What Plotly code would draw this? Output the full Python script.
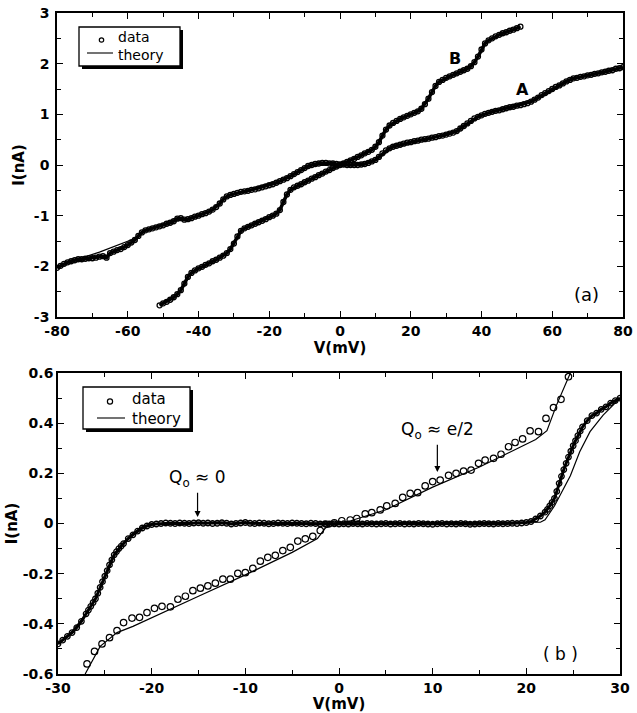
import plotly.graph_objects as go

# ---------------- Panel (a) data ----------------
va = list(range(-80, 81))
ia = [-2.03, -1.99, -1.95, -1.92, -1.90, -1.88, -1.86, -1.86, -1.85, -1.84,
      -1.84, -1.83, -1.81, -1.80, -1.83, -1.74, -1.71, -1.68, -1.66, -1.62,
      -1.58, -1.53, -1.48, -1.40, -1.33, -1.29, -1.27, -1.25, -1.23, -1.21,
      -1.19, -1.16, -1.14, -1.11, -1.06, -1.05, -1.08, -1.07, -1.05, -1.02,
      -1.00, -0.97, -0.95, -0.92, -0.88, -0.83, -0.76, -0.68, -0.62, -0.59,
      -0.57, -0.55, -0.53, -0.52, -0.51, -0.49, -0.48, -0.46, -0.44, -0.42,
      -0.40, -0.38, -0.35, -0.32, -0.29, -0.26, -0.22, -0.18, -0.14, -0.10,
      -0.06, -0.02, 0.00, 0.02, 0.03, 0.04, 0.04, 0.03, 0.03, 0.02,
      0.01, 0.01, 0.00, 0.00, 0.00, 0.00, 0.01, 0.02, 0.04, 0.07,
      0.10, 0.16, 0.23, 0.29, 0.33, 0.36, 0.38, 0.40, 0.42, 0.44,
      0.45, 0.47, 0.48, 0.50, 0.51, 0.52, 0.54, 0.55, 0.57, 0.58,
      0.60, 0.62, 0.64, 0.67, 0.72, 0.77, 0.82, 0.87, 0.92, 0.95,
      0.98, 1.01, 1.03, 1.05, 1.07, 1.08, 1.10, 1.12, 1.14, 1.15,
      1.17, 1.18, 1.20, 1.22, 1.25, 1.29, 1.33, 1.38, 1.42, 1.46,
      1.50, 1.54, 1.57, 1.61, 1.65, 1.68, 1.71, 1.72, 1.74, 1.75,
      1.77, 1.78, 1.80, 1.81, 1.83, 1.84, 1.86, 1.87, 1.90, 1.91,
      1.93]

vb = list(range(-51, 52))
ib = [-2.77, -2.73, -2.70, -2.66, -2.61, -2.55, -2.47, -2.34, -2.21, -2.13,
      -2.08, -2.04, -2.01, -1.97, -1.94, -1.90, -1.87, -1.83, -1.79, -1.74,
      -1.66, -1.55, -1.41, -1.30, -1.25, -1.22, -1.19, -1.16, -1.13, -1.10,
      -1.07, -1.03, -1.00, -0.96, -0.89, -0.73, -0.58, -0.49, -0.44, -0.41,
      -0.38, -0.34, -0.31, -0.27, -0.24, -0.20, -0.17, -0.13, -0.10, -0.06,
      -0.03, 0.00, 0.03, 0.06, 0.09, 0.12, 0.16, 0.19, 0.23, 0.26,
      0.30, 0.36, 0.45, 0.58, 0.70, 0.78, 0.83, 0.87, 0.91, 0.94,
      0.97, 1.00, 1.03, 1.06, 1.11, 1.20, 1.31, 1.44, 1.56, 1.64,
      1.68, 1.72, 1.75, 1.78, 1.81, 1.84, 1.87, 1.90, 1.95, 2.03,
      2.14, 2.28, 2.40, 2.46, 2.50, 2.54, 2.57, 2.60, 2.62, 2.65,
      2.67, 2.70, 2.73]

va_th = [-80, -76, -72, -68, -64, -60, -58, -56, -54, -50, -46, -42, -38, -35,
         -33, -31, -26, -20, -15, -10, -7, -3, 0, 4, 7, 10, 12, 14, 18, 24, 30,
         33, 36, 39, 44, 50, 54, 58, 62, 66, 70, 76, 80]
ia_th = [-2.00, -1.90, -1.81, -1.72, -1.61, -1.51, -1.45, -1.33, -1.27, -1.19,
         -1.09, -1.04, -0.95, -0.83, -0.68, -0.59, -0.51, -0.40, -0.26, -0.07,
         0.01, 0.03, 0.01, 0.00, 0.02, 0.10, 0.23, 0.33, 0.42, 0.51, 0.60,
         0.67, 0.82, 0.95, 1.07, 1.17, 1.25, 1.42, 1.57, 1.70, 1.77, 1.86, 1.93]

vb_th = [-51, -47, -45, -43, -41, -36, -32, -30, -28, -26, -20, -18, -16, -14,
         -12, -6, 0, 6, 10, 12, 14, 18, 22, 24, 26, 28, 32, 36, 38, 40, 42, 46, 51]
ib_th = [-2.77, -2.61, -2.47, -2.21, -2.08, -1.90, -1.74, -1.55, -1.30, -1.22,
         -1.03, -0.96, -0.73, -0.49, -0.41, -0.20, 0.00, 0.19, 0.36, 0.58, 0.78,
         0.94, 1.06, 1.20, 1.44, 1.64, 1.78, 1.90, 2.03, 2.28, 2.46, 2.60, 2.73]

# ---------------- Panel (b) data ----------------
v_q0 = [-30, -29.5, -29, -28.5, -28, -27.5, -27, -26.75, -26.5, -26.25, -26,
        -25.75, -25.5, -25.25, -25, -24.75, -24.5, -24.25, -24, -23.75, -23.5,
        -23.25, -23, -22.5, -22, -21.5, -21, -20.5, -20,
        -19.5, -19, -18.5, -18, -17.5, -17, -16.5, -16, -15.5, -15, -14.5, -14,
        -13.5, -13, -12.5, -12, -11.5, -11, -10.5, -10, -9.5, -9, -8.5, -8,
        -7.5, -7, -6.5, -6, -5.5, -5, -4.5, -4, -3.5, -3, -2.5, -2, -1.5, -1,
        -0.5, 0, 0.5, 1, 1.5, 2, 2.5, 3, 3.5, 4, 4.5, 5, 5.5, 6, 6.5, 7, 7.5,
        8, 8.5, 9, 9.5, 10, 10.5, 11, 11.5, 12, 12.5, 13, 13.5, 14, 14.5, 15,
        15.5, 16, 16.5, 17, 17.5, 18, 18.5, 19, 19.5, 20,
        20.5, 21, 21.5, 22, 22.25, 22.5, 22.75, 23, 23.25, 23.5, 23.75, 24,
        24.25, 24.5, 24.75, 25, 25.25, 25.5, 25.75, 26, 26.5, 27, 27.5, 28,
        28.5, 29, 29.5, 30]
i_q0 = [-0.480, -0.465, -0.450, -0.435, -0.415, -0.390, -0.360, -0.345, -0.330,
        -0.315, -0.300, -0.278, -0.255, -0.232, -0.210, -0.188, -0.165, -0.145,
        -0.125, -0.112, -0.100, -0.090, -0.080, -0.060, -0.045, -0.030, -0.018,
        -0.010, -0.004,
        -0.002, 0.000, 0.002, 0.001, 0.000, 0.002, 0.001, 0.000, 0.002, 0.003,
        0.001, 0.002, 0.000, 0.001, 0.003, 0.001, -0.002, 0.000, 0.002, 0.004,
        0.001, 0.000, 0.002, 0.001, -0.001, 0.000, 0.002, 0.001, 0.000, 0.002,
        0.001, 0.000, -0.001, 0.001, 0.000, -0.002, -0.001, -0.002, -0.001,
        -0.002, -0.001, -0.002, 0.000, -0.001, -0.002, 0.000, -0.001, -0.002,
        -0.001, 0.000, -0.002, -0.001, 0.000, -0.002, -0.001, -0.002, 0.000,
        -0.001, -0.002, -0.003, -0.001, 0.000, -0.002, -0.001, -0.002, 0.000,
        -0.001, -0.003, -0.002, -0.001, 0.000, -0.001, -0.002, 0.000, -0.001,
        0.000, 0.001, 0.000, 0.002, 0.004,
        0.008, 0.018, 0.030, 0.045, 0.056, 0.070, 0.084, 0.100, 0.128, 0.160,
        0.188, 0.215, 0.240, 0.265, 0.288, 0.310, 0.330, 0.350, 0.368, 0.385,
        0.410, 0.430, 0.440, 0.455, 0.465, 0.480, 0.490, 0.500]

v_q0_th = [-30, -28.5, -27, -26, -25, -24, -23, -22, -21, -20, 21.5, 22, 23,
           24, 24.7, 25.7, 26.8, 28.2, 29, 30]
i_q0_th = [-0.480, -0.430, -0.360, -0.300, -0.220, -0.130, -0.075, -0.038,
           -0.012, 0.000, 0.005, 0.015, 0.070, 0.140, 0.190, 0.286, 0.366,
           0.432, 0.462, 0.500]

v_half = [-26.9, -26.1, -25.3, -24.5, -23.7, -23.0, -22.1, -21.3, -20.5, -19.7,
          -18.9, -18.0, -17.2, -16.4, -15.6, -14.8, -14.0, -13.2, -12.4, -11.6,
          -10.8, -10.0, -9.2, -8.4, -7.6, -6.8, -6.0, -5.2, -4.4, -3.6, -2.8,
          -2.0, -1.3, -0.5, 0.3, 1.2, 1.9, 2.8, 3.5, 4.4, 5.1, 6.0, 6.8, 7.6,
          8.4, 9.2, 10.0, 10.8, 11.7, 12.5, 13.3, 14.1, 14.9, 15.6, 16.5, 17.3,
          18.1, 18.8, 19.6, 20.4, 21.3, 22.1, 22.9, 23.7, 24.5]
i_half = [-0.560, -0.510, -0.480, -0.455, -0.427, -0.395, -0.377, -0.374,
          -0.355, -0.338, -0.330, -0.332, -0.302, -0.290, -0.268, -0.258,
          -0.249, -0.238, -0.222, -0.222, -0.199, -0.196, -0.179, -0.150,
          -0.135, -0.127, -0.108, -0.095, -0.070, -0.061, -0.051, -0.028,
          -0.003, 0.003, 0.011, 0.014, 0.020, 0.038, 0.043, 0.054, 0.070,
          0.080, 0.104, 0.120, 0.123, 0.150, 0.167, 0.173, 0.192, 0.200,
          0.209, 0.213, 0.240, 0.253, 0.260, 0.276, 0.306, 0.323, 0.337,
          0.369, 0.366, 0.419, 0.462, 0.495, 0.585]

v_half_th = [-27.1, -25.5, -23.7, -22.0, -15.0, -10.0, -5.0, -2.3, -1.5, -0.8,
             1.0, 5.0, 10.0, 15.0, 21.0, 22.2, 23.2, 24.7]
i_half_th = [-0.600, -0.490, -0.435, -0.410, -0.290, -0.205, -0.115, -0.060,
             -0.020, 0.000, 0.008, 0.055, 0.145, 0.225, 0.335, 0.370, 0.470,
             0.600]

# tick labels
xa_ticks = [-80, -60, -40, -20, 0, 20, 40, 60, 80]
ya_ticks = [-3, -2, -1, 0, 1, 2, 3]
xb_ticks = [-30, -20, -10, 0, 10, 20, 30]
yb_ticks = [-0.6, -0.4, -0.2, 0, 0.2, 0.4, 0.6]
yb_labels = ["-0.6", "-0.4", "-0.2", "0", "0.2", "0.4", "0.6"]

W, H = 637, 713
def PX(x):
    return x / W
def PY(y):
    return 1 - y / H

FONT = "DejaVu Sans"
fig = go.Figure()

# ---- panel (a) traces ----
for v, i in ((va, ia), (vb, ib)):
    fig.add_trace(go.Scatter(x=v, y=i, mode="lines", line=dict(color="black", width=3.5),
                             showlegend=False, hoverinfo="skip", xaxis="x", yaxis="y"))
for v, i in ((va, ia), (vb, ib)):
    fig.add_trace(go.Scatter(x=v, y=i, mode="markers", name="data",
                             marker=dict(symbol="circle-open", size=5, color="black",
                                         line=dict(width=1.3, color="black")),
                             showlegend=False, xaxis="x", yaxis="y"))
for v, i in ((va_th, ia_th), (vb_th, ib_th)):
    fig.add_trace(go.Scatter(x=v, y=i, mode="lines", name="theory",
                             line=dict(color="black", width=1.2),
                             showlegend=False, xaxis="x", yaxis="y"))

# ---- panel (b) traces ----
fig.add_trace(go.Scatter(x=v_q0, y=i_q0, mode="lines", line=dict(color="black", width=3),
                         showlegend=False, hoverinfo="skip", xaxis="x2", yaxis="y2"))
fig.add_trace(go.Scatter(x=v_q0, y=i_q0, mode="markers", name="data",
                         marker=dict(symbol="circle-open", size=5.5, color="black",
                                     line=dict(width=1.3, color="black")),
                         showlegend=False, xaxis="x2", yaxis="y2"))
fig.add_trace(go.Scatter(x=v_half, y=i_half, mode="markers", name="data",
                         marker=dict(symbol="circle-open", size=6.5, color="black",
                                     line=dict(width=1.2, color="black")),
                         showlegend=False, xaxis="x2", yaxis="y2"))
fig.add_trace(go.Scatter(x=v_q0_th, y=i_q0_th, mode="lines", name="theory",
                         line=dict(color="black", width=1.2),
                         showlegend=False, xaxis="x2", yaxis="y2"))
fig.add_trace(go.Scatter(x=v_half_th, y=i_half_th, mode="lines", name="theory",
                         line=dict(color="black", width=1.2),
                         showlegend=False, xaxis="x2", yaxis="y2"))

tickfont = dict(family=FONT, size=14, color="black", weight="bold")
titlefont = dict(family=FONT, size=15, color="black", weight="bold")

def ax(**kw):
    d = dict(showline=True, linecolor="black", linewidth=1.6, mirror="ticks",
             ticks="inside", ticklen=6, tickwidth=1.2, tickcolor="black",
             showgrid=False, zeroline=False, tickfont=tickfont, automargin=False)
    d.update(kw)
    return d

fig.update_layout(
    width=W, height=H,
    margin=dict(l=0, r=0, t=0, b=0),
    plot_bgcolor="white", paper_bgcolor="white",
    showlegend=False,
    xaxis=ax(domain=[PX(57), PX(623)], anchor="y", range=[-80, 80],
             tickmode="array", tickvals=xa_ticks, ticktext=[str(t) for t in xa_ticks],
             minor=dict(tickmode="linear", tick0=0, dtick=10, ticks="inside",
                        ticklen=4, tickcolor="black"),
             title=dict(text="V(mV)", font=titlefont, standoff=2)),
    yaxis=ax(domain=[PY(317), PY(13)], anchor="x", range=[-3, 3],
             tickmode="array", tickvals=ya_ticks, ticktext=[str(t) for t in ya_ticks],
             ticklabelstandoff=3,
             minor=dict(tickmode="linear", tick0=0, dtick=0.5, ticks="inside",
                        ticklen=4, tickcolor="black"),
             title=dict(text="I(nA)", font=titlefont, standoff=6)),
    xaxis2=ax(domain=[PX(58), PX(620)], anchor="y2", range=[-30, 30],
              tickmode="array", tickvals=xb_ticks, ticktext=[str(t) for t in xb_ticks],
              minor=dict(tickmode="linear", tick0=0, dtick=5, ticks="inside",
                         ticklen=4, tickcolor="black"),
              title=dict(text="V(mV)", font=titlefont, standoff=0)),
    yaxis2=ax(domain=[PY(674), PY(373)], anchor="x2", range=[-0.6, 0.6],
              tickmode="array", tickvals=yb_ticks, ticktext=yb_labels,
              minor=dict(tickmode="linear", tick0=0, dtick=0.1, ticks="inside",
                         ticklen=4, tickcolor="black"),
              title=dict(text="I(nA)", font=titlefont, standoff=2)),
)

# ---- hand-drawn legends with drop shadow (paper pixels) ----
def legend_box(x0, y0, x1, y1, circ, line, tx, ysplit, fsize, r):
    fig.add_shape(type="rect", xref="paper", yref="paper",
                  x0=PX(x0 + 3), x1=PX(x1 + 3), y0=PY(y0 + 3), y1=PY(y1 + 3),
                  fillcolor="black", line=dict(width=0))
    fig.add_shape(type="rect", xref="paper", yref="paper",
                  x0=PX(x0), x1=PX(x1), y0=PY(y0), y1=PY(y1),
                  fillcolor="white", line=dict(color="black", width=1.3))
    cx, cy = circ
    fig.add_shape(type="circle", xref="paper", yref="paper",
                  x0=PX(cx - r), x1=PX(cx + r), y0=PY(cy - r), y1=PY(cy + r),
                  line=dict(color="black", width=1.2))
    lx0, lx1, ly = line
    fig.add_shape(type="line", xref="paper", yref="paper",
                  x0=PX(lx0), x1=PX(lx1), y0=PY(ly), y1=PY(ly),
                  line=dict(color="black", width=1.1))
    lf = dict(family=FONT, size=fsize, color="black")
    fig.add_annotation(x=PX(tx), y=PY(ysplit), xref="paper", yref="paper", text="data",
                       showarrow=False, xanchor="left", yanchor="bottom", font=lf,
                       borderpad=0)
    fig.add_annotation(x=PX(tx), y=PY(ysplit), xref="paper", yref="paper", text="theory",
                       showarrow=False, xanchor="left", yanchor="top", font=lf,
                       borderpad=0)

legend_box(79, 27, 180, 66, (101.5, 40), (87, 113, 53), 117, 45.5, 14, 2.2)
legend_box(83, 387, 190, 429, (110, 401.5), (97, 125, 418), 131, 408.5, 15, 2.6)

ann_font = dict(family=FONT, size=16, color="black", weight="bold")
fig.add_annotation(x=32.5, y=2.11, xref="x", yref="y", text="B", showarrow=False, font=ann_font)
fig.add_annotation(x=51.7, y=1.50, xref="x", yref="y", text="A", showarrow=False, font=ann_font)
fig.add_annotation(x=69.8, y=-2.55, xref="x", yref="y", text="(a)", showarrow=False,
                   font=dict(family=FONT, size=18, color="black"))
fig.add_annotation(x=23.7, y=-0.52, xref="x2", yref="y2", text="( b )", showarrow=False,
                   font=dict(family=FONT, size=17, color="black"))

qfont = dict(family=FONT, size=17, color="black")
fig.add_annotation(x=-15.1, y=0.026, ax=-15.1, ay=0.178, xref="x2", yref="y2",
                   axref="x2", ayref="y2", text="Q<sub>o</sub> ≈ 0", font=qfont,
                   showarrow=True, arrowhead=2, arrowsize=1, arrowwidth=1.2,
                   arrowcolor="black", startstandoff=1)
fig.add_annotation(x=10.5, y=0.205, ax=10.5, ay=0.37, xref="x2", yref="y2",
                   axref="x2", ayref="y2", text="Q<sub>o</sub> ≈ e/2", font=qfont,
                   showarrow=True, arrowhead=2, arrowsize=1, arrowwidth=1.2,
                   arrowcolor="black", startstandoff=1)

fig.write_html("out.html")
